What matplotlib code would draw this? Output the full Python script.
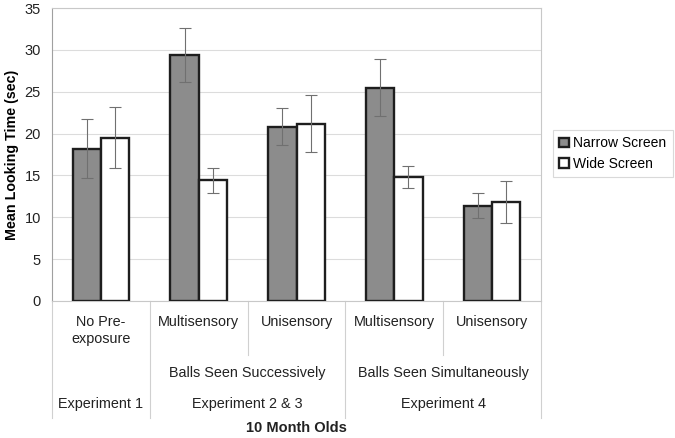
import matplotlib.pyplot as plt
import numpy as np

plt.rcParams['font.family'] = ['Liberation Sans', 'DejaVu Sans']

# data
categories = ['No Pre-\nexposure', 'Multisensory', 'Unisensory', 'Multisensory', 'Unisensory']
narrow = [18.2, 29.4, 20.8, 25.5, 11.4]
narrow_err = [3.5, 3.2, 2.2, 3.4, 1.5]
wide = [19.5, 14.4, 21.2, 14.8, 11.8]
wide_err = [3.65, 1.5, 3.4, 1.3, 2.5]
conditions = ['Balls Seen Successively', 'Balls Seen Simultaneously']
experiments = ['Experiment 1', 'Experiment 2 & 3', 'Experiment 4']

fig = plt.figure(figsize=(6.75, 4.38), dpi=100)
ax = fig.add_axes([52/675, 1 - 301/438, (541 - 52)/675, 293/438])

x = np.arange(len(categories))
w = 0.29
ax.bar(x - w/2, narrow, w, color='#8c8c8c', edgecolor='#1e1e1e', linewidth=1.7,
       label='Narrow Screen', zorder=3)
ax.bar(x + w/2, wide, w, color='white', edgecolor='#1e1e1e', linewidth=1.7,
       label='Wide Screen', zorder=3)
ax.errorbar(x - w/2, narrow, yerr=narrow_err, fmt='none', ecolor='#707070',
            elinewidth=0.8, capsize=4, capthick=0.8, zorder=4)
ax.errorbar(x + w/2, wide, yerr=wide_err, fmt='none', ecolor='#707070',
            elinewidth=0.8, capsize=4, capthick=0.8, zorder=4)

ax.set_xlim(-0.5, 4.5)
ax.set_ylim(0, 35)
ax.set_yticks(range(0, 36, 5))
ax.tick_params(axis='y', labelsize=10.5, length=0, pad=8, colors='#222222')
ax.set_xticks([])
ax.yaxis.grid(True, color='#dcdcdc', linewidth=0.8, zorder=0)
ax.set_axisbelow(True)
for s in ['top', 'right']:
    ax.spines[s].set_color('#c8c8c8')
    ax.spines[s].set_linewidth(0.8)
ax.spines['left'].set_color('#a0a0a0')
ax.spines['bottom'].set_color('#c8c8c8')

ax.set_ylabel('Mean Looking Time (sec)', fontsize=10.3, fontweight='bold', labelpad=4)

# multi-level category labels
fs = 10.4
tr = ax.get_xaxis_transform()
for i, c in enumerate(categories):
    ax.text(i, -0.047, c, transform=tr, ha='center', va='top', fontsize=fs,
            color='#222222', linespacing=1.25)
ax.text(1.5, -0.246, conditions[0], transform=tr, ha='center', va='center', fontsize=fs, color='#222222')
ax.text(3.5, -0.246, conditions[1], transform=tr, ha='center', va='center', fontsize=fs, color='#222222')
ax.text(0, -0.352, experiments[0], transform=tr, ha='center', va='center', fontsize=fs, color='#222222')
ax.text(1.5, -0.352, experiments[1], transform=tr, ha='center', va='center', fontsize=fs, color='#222222')
ax.text(3.5, -0.352, experiments[2], transform=tr, ha='center', va='center', fontsize=fs, color='#222222')

for xb in [-0.5, 0.5, 2.5, 4.5]:
    ax.plot([xb, xb], [0, -0.40], transform=tr, color='#d0d0d0', lw=0.8, clip_on=False)
for xb in [1.5, 3.5]:
    ax.plot([xb, xb], [0, -0.184], transform=tr, color='#d0d0d0', lw=0.8, clip_on=False)

ax.text(2, -0.435, '10 Month Olds', transform=tr, ha='center', va='center',
        fontsize=10.5, fontweight='bold', color='#222222')

leg = fig.legend(loc='upper left', bbox_to_anchor=(553/675, 1 - 130/438),
                 fontsize=10, frameon=True, fancybox=False, handlelength=0.7,
                 handleheight=0.7, handletextpad=0.3, borderpad=0.45,
                 labelspacing=0.5, borderaxespad=0)
leg.get_frame().set_edgecolor('#d0d0d0')
leg.get_frame().set_linewidth(0.8)

fig.savefig('out.png', dpi=100)
